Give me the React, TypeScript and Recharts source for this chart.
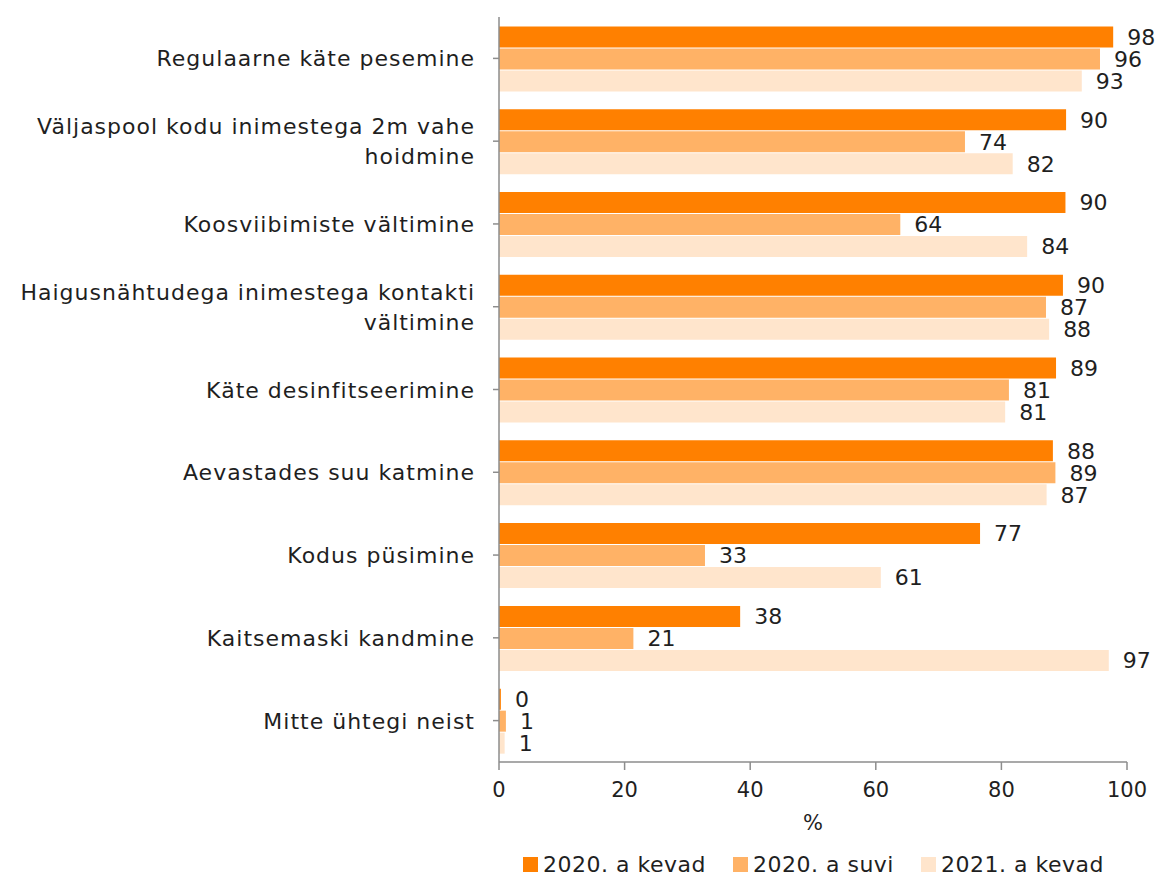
import {
  BarChart,
  Bar,
  XAxis,
  YAxis,
  LabelList,
  Legend,
} from "recharts";

const categories = [
  "Regulaarne käte pesemine",
  "Väljaspool kodu inimestega 2m vahe\nhoidmine",
  "Koosviibimiste vältimine",
  "Haigusnähtudega inimestega kontakti\nvältimine",
  "Käte desinfitseerimine",
  "Aevastades suu katmine",
  "Kodus püsimine",
  "Kaitsemaski kandmine",
  "Mitte ühtegi neist",
];

const spring2020 = [97.8, 90.3, 90.2, 89.8, 88.7, 88.2, 76.6, 38.4, 0.3];
const summer2020 = [95.7, 74.2, 63.9, 87.1, 81.2, 88.6, 32.8, 21.4, 1.1];
const spring2021 = [92.8, 81.8, 84.1, 87.6, 80.6, 87.2, 60.8, 97.1, 0.9];

const xTicks = [0, 20, 40, 60, 80, 100];

const seriesNames = ["2020. a kevad", "2020. a suvi", "2021. a kevad"];
const colors = ["#ff8000", "#ffb266", "#ffe5cc"];

const data = categories.map((name, i) => ({
  name,
  s1: spring2020[i],
  s2: summer2020[i],
  s3: spring2021[i],
}));

const FONT = "'DejaVu Sans', sans-serif";
const TEXT = "#1f1f1f";
const AXIS = "#8d8d8d";

function CategoryTick(props: any) {
  const { x, y, payload } = props;
  const lines = String(payload.value).split("\n");
  const lh = 30;
  const start = -((lines.length - 1) * lh) / 2;
  return (
    <text
      x={x - 16}
      y={y}
      textAnchor="end"
      fill={TEXT}
      fontSize={22}
      letterSpacing={1}
      fontFamily={FONT}
    >
      {lines.map((l, i) => (
        <tspan key={i} x={x - 16} dy={i === 0 ? start + 8 : lh}>
          {l}
        </tspan>
      ))}
    </text>
  );
}

function LegendBox() {
  return (
    <div
      style={{
        height: 40,
        paddingTop: 15,
        boxSizing: "border-box",
        display: "flex",
        justifyContent: "center",
        gap: 27,
        fontFamily: FONT,
        fontSize: 22,
        letterSpacing: 0.5,
        color: TEXT,
        lineHeight: "26px",
        marginLeft: 500,
        whiteSpace: "nowrap",
      }}
    >
      {seriesNames.map((n, i) => (
        <div key={n} style={{ display: "flex", alignItems: "center" }}>
          <span
            style={{
              width: 15,
              height: 15,
              background: colors[i],
              marginRight: 5,
              display: "inline-block",
            }}
          />
          {n}
        </div>
      ))}
    </div>
  );
}

export default function App() {
  const fmt = (v: any) => Math.round(Number(v));
  return (
    <div style={{ position: "absolute", left: 0, top: 0, width: 1157, height: 877 }}>
      <BarChart
        width={1157}
        height={877}
        data={data}
        layout="vertical"
        margin={{ top: 17, right: 30, bottom: 0, left: 0 }}
        barCategoryGap="11.4%"
        barGap={1}
      >
        <XAxis
          type="number"
          domain={[0, 100]}
          ticks={xTicks}
          tickSize={8}
          tickMargin={12}
          height={75}
          stroke={AXIS}
          strokeWidth={1.5}
          tick={{ fill: TEXT, fontSize: 21, fontFamily: FONT }}
          label={{
            value: "%",
            position: "insideBottom",
            offset: 7,
            fill: TEXT,
            fontSize: 21,
            fontFamily: FONT,
          }}
        />
        <YAxis
          type="category"
          dataKey="name"
          width={499}
          tickSize={6}
          stroke={AXIS}
          strokeWidth={1.5}
          interval={0}
          tick={<CategoryTick />}
        />
        <Legend verticalAlign="bottom" content={<LegendBox />} />
        {["s1", "s2", "s3"].map((k, i) => (
          <Bar
            key={k}
            dataKey={k}
            name={seriesNames[i]}
            fill={colors[i]}
            isAnimationActive={false}
          >
            <LabelList
              dataKey={k}
              position="right"
              offset={14}
              formatter={fmt}
              fill={TEXT}
              fontSize={22}
              fontFamily={FONT}
            />
          </Bar>
        ))}
      </BarChart>
    </div>
  );
}
